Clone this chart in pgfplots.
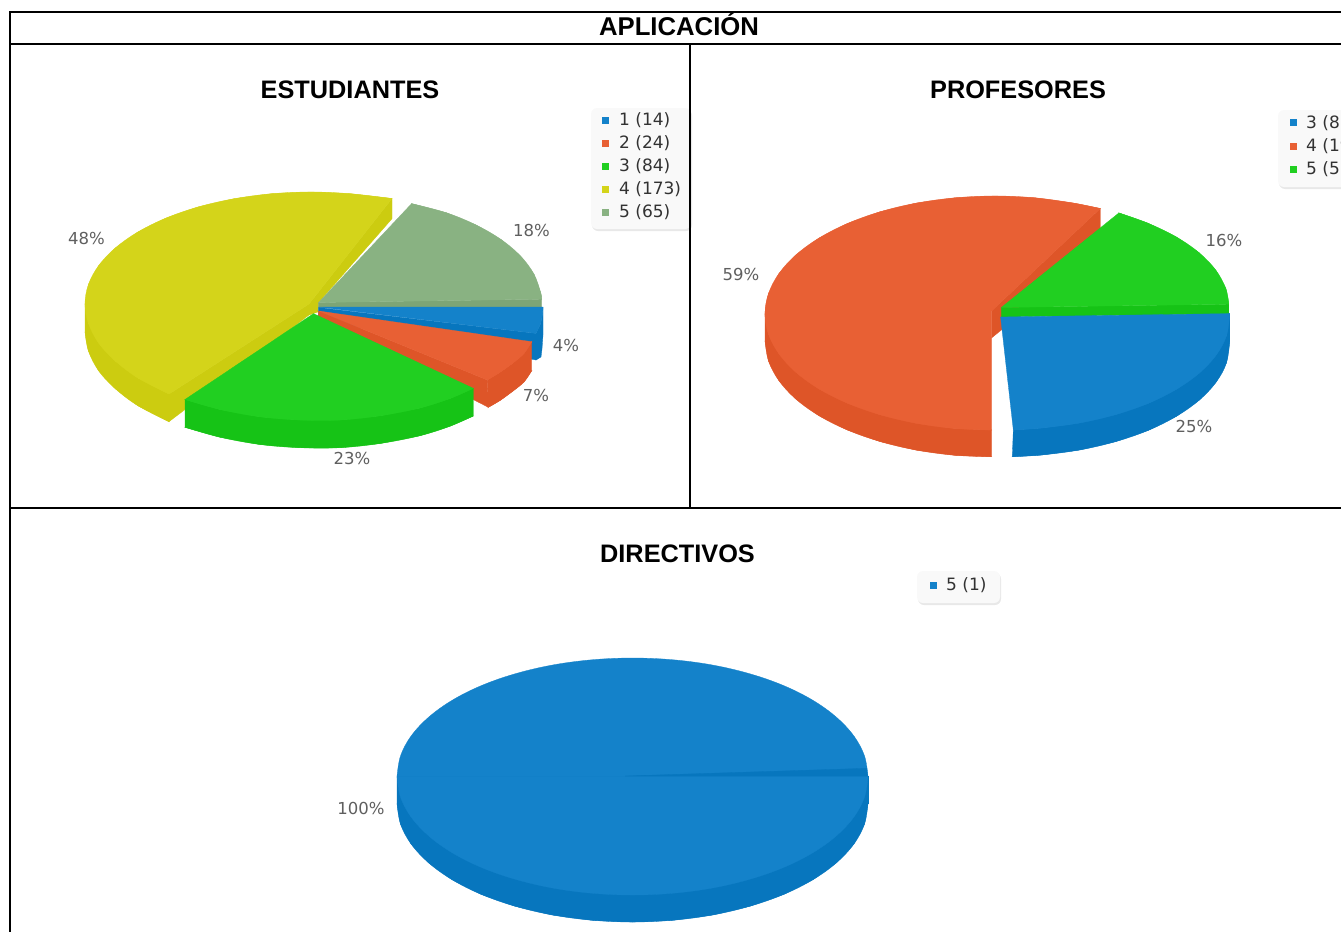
\documentclass[border=0pt]{standalone}
\usepackage{fontspec}
\setmainfont{Liberation Sans}
\newfontfamily\djv{DejaVu Sans}
\usepackage{pgfplots}
\pgfplotsset{compat=1.18}
\definecolor{yT}{RGB}{212,212,26}\definecolor{yW}{RGB}{204,204,16}
\definecolor{sT}{RGB}{137,178,130}\definecolor{sW}{RGB}{125,165,118}
\definecolor{gT}{RGB}{33,207,33}\definecolor{gW}{RGB}{22,195,22}
\definecolor{oT}{RGB}{232,96,52}\definecolor{oW}{RGB}{222,85,40}
\definecolor{bT}{RGB}{20,130,202}\definecolor{bW}{RGB}{7,118,190}
\definecolor{lab}{RGB}{95,95,95}\definecolor{legt}{RGB}{50,50,50}
\definecolor{legb}{RGB}{249,249,249}\definecolor{legs}{RGB}{232,232,232}
\newcommand{\tit}{\fontsize{25.3}{28}\selectfont\bfseries}
\newcommand{\labf}{\djv\fontsize{16.5}{18}\selectfont\color{lab}}
\newcommand{\legf}{\djv\fontsize{17}{19}\selectfont\color{legt}}
\pgfplotsset{
  face/.style={draw=#1,fill=#1,line width=0.3pt,mark=none,forget plot},
  curve/.style={draw=#1,fill=#1,line width=0.3pt,mark=none,forget plot,smooth,tension=0.6},
  rule/.style={black,line width=2pt,mark=none,forget plot},
  leg/.style={only marks,mark=square*,mark size=3pt,mark options={draw=#1,fill=#1},forget plot}
}
\begin{document}
\begin{tikzpicture}
\path[use as bounding box,clip] (0,0) rectangle (1341pt,932pt);
\begin{axis}[at={(0,0)},anchor=south west,scale only axis,width=1341pt,height=932pt,
  xmin=0,xmax=1341,ymin=0,ymax=932,y dir=reverse,hide axis,clip=false]
% ---------- ESTUDIANTES
% yellow 48%
\addplot[face=yW] coordinates {(85,304)(88.4,323.2)(98.6,343)(115.3,361)(137.9,378)(169,394)(169,421.7)(137.9,405.7)(115.3,388.7)(98.6,370.7)(88.4,350.9)(85,332)} --cycle;
\addplot[curve=yW] coordinates {(85,332)(88.4,350.9)(98.6,370.7)(115.3,388.7)(137.9,405.7)(169,421.7)} --cycle;
\addplot[face=yW] coordinates {(309,304)(309,315)(169,421.7)(169,394)} --cycle;
\addplot[face=yW] coordinates {(392,198.5)(392,218.7)(318.6,302.5)(318,312)(309,315)(309,304)} --cycle;
\addplot[face=yT] coordinates {(309,304)(392,198.5)(350.2,193.7)(311,192)(271.8,193.7)(233.7,198.8)(198,207)(165.7,218.2)(137.9,232)(115.3,248)(98.6,265.7)(88.4,284.6)(85,304)(88.4,323.2)(98.6,343)(115.3,361)(137.9,378)(169,394)} --cycle;
\addplot[curve=yT] coordinates {(392,198.5)(350.2,193.7)(311,192)(271.8,193.7)(233.7,198.8)(198,207)(165.7,218.2)(137.9,232)(115.3,248)(98.6,265.7)(88.4,284.6)(85,304)(88.4,323.2)(98.6,343)(115.3,361)(137.9,378)(169,394)} --cycle;
% sage 18%
\addplot[face=sW] coordinates {(318.6,302.5)(541.7,299.2)(541.7,307)(318.6,308)} --cycle;
\addplot[face=sT] coordinates {(318.6,302.5)(411.6,203.6)(446.5,212.8)(476.3,225.1)(501.3,239.7)(520.7,256.2)(534,274.2)(540.8,293)(541.7,299.2)} --cycle;
\addplot[curve=sT] coordinates {(411.6,203.6)(446.5,212.8)(476.3,225.1)(501.3,239.7)(520.7,256.2)(534,274.2)(540.8,293)(541.7,299.2)} --cycle;
% blue 4%
\addplot[face=bW] coordinates {(318.6,307.5)(536,333.4)(536,360)(318.6,320)} --cycle;
\addplot[face=bW] coordinates {(543,307)(543,335)(542,349)(541,357)(536,360)(536,333.4)(540.5,324)(542.5,315)} --cycle;
\addplot[face=bT] coordinates {(318.6,307)(543,307)(542.5,315)(540.5,324)(536,333.4)} --cycle;
% orange 7%
\addplot[face=oW] coordinates {(318.6,311)(487.3,380)(488.3,407.3)(318.6,320)} --cycle;
\addplot[face=oW] coordinates {(531.7,341.7)(531.7,370.7)(524,382)(513,391)(500,400.5)(488.3,407.3)(487.3,380)(500,372.3)(513,363)(524,353.5)} --cycle;
\addplot[curve=oW] coordinates {(531.7,370.7)(524,382)(513,391)(500,400.5)(488.3,407.3)} --cycle;
\addplot[face=oT] coordinates {(318.6,311)(531.7,341.7)(524,353.5)(513,363)(500,372.3)(487.3,380)} --cycle;
\addplot[curve=oT] coordinates {(531.7,341.7)(524,353.5)(513,363)(500,372.3)(487.3,380)} --cycle;
% green 23%
\addplot[face=gW] coordinates {(185,399.5)(220,409.5)(260,416.8)(300,420)(340,420)(380,415.8)(420,408)(450,398.5)(473.3,388.3)(473.3,416)(450,426.2)(420,435.7)(380,443.5)(340,447.7)(300,447.7)(260,444.5)(220,437.2)(185,427.3)} --cycle;
\addplot[curve=gW] coordinates {(473.3,416)(450,426.2)(420,435.7)(380,443.5)(340,447.7)(300,447.7)(260,444.5)(220,437.2)(185,427.3)} --cycle;
\addplot[face=gT] coordinates {(313.5,313.6)(185,399.5)(220,409.5)(260,416.8)(300,420)(340,420)(380,415.8)(420,408)(450,398.5)(473.3,388.3)} --cycle;
\addplot[curve=gT] coordinates {(185,399.5)(220,409.5)(260,416.8)(300,420)(340,420)(380,415.8)(420,408)(450,398.5)(473.3,388.3)} --cycle;
% ---------- PROFESORES
% orange 59%
\addplot[face=oW] coordinates {(765,314)(768.5,334.2)(778.9,353.8)(795.8,372.2)(818.8,388.8)(847.2,403.1)(880,414.7)(916.3,423.3)(955.1,428.5)(991.5,430)(991.5,456.7)(955.1,455.3)(916.3,450.1)(880,441.5)(847.2,429.9)(818.8,415.6)(795.8,399)(778.9,380.6)(768.5,361)(765,341)} --cycle;
\addplot[curve=oW] coordinates {(765,341)(768.5,361)(778.9,380.6)(795.8,399)(818.8,415.6)(847.2,429.9)(880,441.5)(916.3,450.1)(955.1,455.3)(991.5,456.7)} --cycle;
\addplot[face=oW] coordinates {(1100.3,208.5)(1100.3,228.7)(1001.3,330)(991.5,338)(991.5,311)} --cycle;
\addplot[face=oT] coordinates {(991.5,311)(1100.3,208.5)(1073.7,203.1)(1034.9,197.8)(995,196)(955.1,197.8)(916.3,203.1)(880,211.8)(847.2,223.6)(818.8,238.2)(795.8,255)(778.9,273.6)(768.5,293.5)(765,314)(768.5,334.2)(778.9,353.8)(795.8,372.2)(818.8,388.8)(847.2,403.1)(880,414.7)(916.3,423.3)(955.1,428.5)(991.5,430)} --cycle;
\addplot[curve=oT] coordinates {(1100.3,208.5)(1073.7,203.1)(1034.9,197.8)(995,196)(955.1,197.8)(916.3,203.1)(880,211.8)(847.2,223.6)(818.8,238.2)(795.8,255)(778.9,273.6)(768.5,293.5)(765,314)(768.5,334.2)} --cycle;
\addplot[curve=oT] coordinates {(768.5,293.5)(765,314)(768.5,334.2)(778.9,353.8)(795.8,372.2)(818.8,388.8)(847.2,403.1)(880,414.7)(916.3,423.3)(955.1,428.5)(991.5,430)} --cycle;
% green 16%
\addplot[face=gW] coordinates {(1001.3,307.5)(1228.8,304.2)(1228.8,314)(1001.3,317)} --cycle;
\addplot[face=gT] coordinates {(1001.3,307.5)(1118.9,212.9)(1147.9,223.2)(1176,236.8)(1198.8,252.5)(1215.6,269.9)(1225.8,288.4)(1228.8,304.2)} --cycle;
\addplot[curve=gT] coordinates {(1118.9,212.9)(1147.9,223.2)(1176,236.8)(1198.8,252.5)(1215.6,269.9)(1225.8,288.4)(1228.8,304.2)} --cycle;
% blue 25%
\addplot[face=bW] coordinates {(1229.8,313.6)(1226.5,335.7)(1216.3,354.9)(1199.5,372.9)(1176.7,389.1)(1148.6,403.2)(1116,414.5)(1080,422.9)(1041.6,428)(1013.3,430)(1012.3,456.7)(1041.6,455)(1080,449.9)(1116,441.5)(1148.6,430.2)(1176.7,416.1)(1199.5,399.9)(1216.3,381.9)(1226.5,362.7)(1229.8,340.6)} --cycle;
\addplot[curve=bW] coordinates {(1229.8,340.6)(1226.5,362.7)(1216.3,381.9)(1199.5,399.9)(1176.7,416.1)(1148.6,430.2)(1116,441.5)(1080,449.9)(1041.6,455)(1012.3,456.7)} --cycle;
\addplot[face=bT] coordinates {(1000.6,317)(1229.8,313.6)(1226.5,335.7)(1216.3,354.9)(1199.5,372.9)(1176.7,389.1)(1148.6,403.2)(1116,414.5)(1080,422.9)(1041.6,428)(1013.3,430)} --cycle;
\addplot[curve=bT] coordinates {(1229.8,313.6)(1226.5,335.7)(1216.3,354.9)(1199.5,372.9)(1176.7,389.1)(1148.6,403.2)(1116,414.5)(1080,422.9)(1041.6,428)(1013.3,430)} --cycle;
% ---------- DIRECTIVOS
\addplot[face=bW] coordinates {(397,776.5)(400.5,797.1)(411.1,817)(428.6,835.8)(452.1,852.7)(481.1,867.3)(514.7,879.1)(552,887.9)(591.6,893.2)(632.5,895)(673.4,893.2)(713,887.9)(750.3,879.1)(783.9,867.3)(812.9,852.7)(836.4,835.8)(853.9,817)(864.5,797.1)(868,776.5)(868,803.5)(864.5,824.1)(853.9,844)(836.4,862.8)(812.9,879.7)(783.9,894.3)(750.3,906.1)(713,914.9)(673.4,920.2)(632.5,922)(591.6,920.2)(552,914.9)(514.7,906.1)(481.1,894.3)(452.1,879.7)(428.6,862.8)(411.1,844)(400.5,824.1)(397,803.5)} --cycle;
\addplot[curve=bW] coordinates {(868,803.5)(864.5,824.1)(853.9,844)(836.4,862.8)(812.9,879.7)(783.9,894.3)(750.3,906.1)(713,914.9)(673.4,920.2)(632.5,922)(591.6,920.2)(552,914.9)(514.7,906.1)(481.1,894.3)(452.1,879.7)(428.6,862.8)(411.1,844)(400.5,824.1)(397,803.5)} --cycle;
\addplot[face=bW] coordinates {(397,776.5)(397,803.5)(868,803.5)(868,776.5)} --cycle;
\addplot[curve=bT] coordinates {(397,776.5)(400.5,755.9)(411.1,736)(428.6,717.2)(452.1,700.3)(481.1,685.7)(514.7,673.9)(552,665.1)(591.6,659.8)(632.5,658)(673.4,659.8)(713,665.1)(750.3,673.9)(783.9,685.7)(812.9,700.3)(836.4,717.2)(853.9,736)(864.5,755.9)(868,776.5)} --cycle;
\addplot[curve=bT] coordinates {(868,776.5)(864.5,797.1)(853.9,817)(836.4,835.8)(812.9,852.7)(783.9,867.3)(750.3,879.1)(713,887.9)(673.4,893.2)(632.5,895)(591.6,893.2)(552,887.9)(514.7,879.1)(481.1,867.3)(452.1,852.7)(428.6,835.8)(411.1,817)(400.5,797.1)(397,776.5)} --cycle;
\addplot[face=bW] coordinates {(625,776)(866.7,768.3)(867.5,776)} --cycle;
% ---------- legends
\fill[legs,rounded corners=6pt] (axis cs:592,109.5) rectangle (axis cs:692,231);
\fill[legb,rounded corners=6pt] (axis cs:591,108) rectangle (axis cs:691,229);
\fill[legs,rounded corners=6pt] (axis cs:1279,111.5) rectangle (axis cs:1360,189);
\fill[legb,rounded corners=6pt] (axis cs:1278,110) rectangle (axis cs:1360,187);
\fill[legs,rounded corners=6pt] (axis cs:918,573) rectangle (axis cs:1001,605);
\fill[legb,rounded corners=6pt] (axis cs:917,571) rectangle (axis cs:1000,603);
\addplot[leg=bT] coordinates {(605,120)};
\addplot[leg=oT] coordinates {(605,143)};
\addplot[leg=gT] coordinates {(605,166)};
\addplot[leg=yT] coordinates {(605,189)};
\addplot[leg=sT] coordinates {(605,212)};
\addplot[leg=bT] coordinates {(1293,122)};
\addplot[leg=oT] coordinates {(1293,146)};
\addplot[leg=gT] coordinates {(1293,169)};
\addplot[leg=bT] coordinates {(933,585)};
\node[anchor=west,inner sep=0] at (axis cs:619,120) {\legf 1 (14)};
\node[anchor=west,inner sep=0] at (axis cs:619,143) {\legf 2 (24)};
\node[anchor=west,inner sep=0] at (axis cs:619,166) {\legf 3 (84)};
\node[anchor=west,inner sep=0] at (axis cs:619,189) {\legf 4 (173)};
\node[anchor=west,inner sep=0] at (axis cs:619,212) {\legf 5 (65)};
\node[anchor=west,inner sep=0] at (axis cs:1306,123) {\legf 3 (8)};
\node[anchor=west,inner sep=0] at (axis cs:1306,146) {\legf 4 (19)};
\node[anchor=west,inner sep=0] at (axis cs:1306,169) {\legf 5 (5)};
\node[anchor=west,inner sep=0] at (axis cs:946,585) {\legf 5 (1)};
% ---------- percent labels
\node at (axis cs:86.5,238) {\labf 48\%};
\node at (axis cs:531.5,230) {\labf 18\%};
\node at (axis cs:566,345) {\labf 4\%};
\node at (axis cs:536,395) {\labf 7\%};
\node at (axis cs:352,458) {\labf 23\%};
\node at (axis cs:741,274) {\labf 59\%};
\node at (axis cs:1224,240) {\labf 16\%};
\node at (axis cs:1194,426) {\labf 25\%};
\node at (axis cs:361,808) {\labf 100\%};
% ---------- table rules
\addplot[rule] coordinates {(10,12)(1341,12)};
\addplot[rule] coordinates {(10,44)(1341,44)};
\addplot[rule] coordinates {(10,508)(1341,508)};
\addplot[rule] coordinates {(10,11)(10,932)};
\addplot[rule] coordinates {(690,44)(690,508)};
% ---------- titles
\node at (axis cs:679,24.5) {\fontsize{25.7}{28}\selectfont\bfseries APLICACIÓN};
\node at (axis cs:350,90) {\tit ESTUDIANTES};
\node at (axis cs:1018,90) {\tit PROFESORES};
\node at (axis cs:677.5,554) {\tit DIRECTIVOS};
\end{axis}
\end{tikzpicture}
\end{document}
